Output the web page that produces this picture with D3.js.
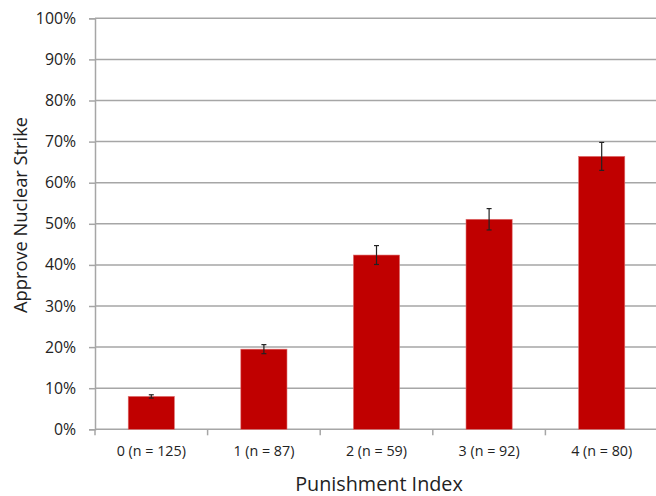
<!DOCTYPE html>
<html>
<head>
<meta charset="utf-8">
<script src="https://cdn.jsdelivr.net/npm/d3@7"></script>
<style>
  body { margin: 0; background: #fff; }
  svg text { font-family: "Open Sans", "Noto Sans", sans-serif; fill: #222; }
</style>
</head>
<body>
<svg width="656" height="496"></svg>
<script>
// data
const categories = ["0 (n = 125)", "1 (n = 87)", "2 (n = 59)", "3 (n = 92)", "4 (n = 80)"];
const values = [8.0, 19.5, 42.4, 51.1, 66.4];
const errors = [0.4, 1.1, 2.3, 2.6, 3.4];
const yTicks = [0, 10, 20, 30, 40, 50, 60, 70, 80, 90, 100];

const svg = d3.select("svg");
const plotLeft = 95, plotRight = 658, plotTop = 18.3, plotBottom = 429.3;

const x = d3.scaleBand()
  .domain(categories)
  .range([plotLeft, plotRight])
  .paddingInner(0.59)
  .paddingOuter(0.295);

const y = d3.scaleLinear().domain([0, 100]).range([plotBottom, plotTop]);

// gridlines
svg.append("g")
  .selectAll("line")
  .data(yTicks.slice(1))
  .join("line")
  .attr("x1", plotLeft).attr("x2", 656)
  .attr("y1", d => y(d)).attr("y2", d => y(d))
  .attr("stroke", "#a6a6a6")
  .attr("stroke-width", 1.5);

// y axis
const yAxis = svg.append("g")
  .attr("transform", `translate(${plotLeft},0)`)
  .call(d3.axisLeft(y).tickValues(yTicks).tickSize(6).tickPadding(13).tickFormat(d => d + "%"));
yAxis.select(".domain").attr("stroke", "#a6a6a6").attr("stroke-width", 1.5);
yAxis.selectAll(".tick line").attr("stroke", "#a6a6a6").attr("stroke-width", 1.5);
yAxis.selectAll("text").attr("font-size", 15.8).attr("fill", "#222");

// x axis baseline and boundary ticks
const bandStep = x.step();
const boundaries = d3.range(categories.length + 1).map(i => plotLeft + i * bandStep);
svg.append("line")
  .attr("x1", plotLeft).attr("x2", 656)
  .attr("y1", plotBottom).attr("y2", plotBottom)
  .attr("stroke", "#a6a6a6").attr("stroke-width", 1.5);
svg.append("g")
  .selectAll("line")
  .data(boundaries)
  .join("line")
  .attr("x1", d => d).attr("x2", d => d)
  .attr("y1", plotBottom).attr("y2", plotBottom + 6)
  .attr("stroke", "#a6a6a6").attr("stroke-width", 1.5);

// category labels
svg.append("g")
  .selectAll("text")
  .data(categories)
  .join("text")
  .attr("x", d => x(d) + x.bandwidth() / 2)
  .attr("y", 456)
  .attr("text-anchor", "middle")
  .attr("font-size", 14.3)
  .text(d => d);

// bars
svg.append("g")
  .selectAll("rect")
  .data(values)
  .join("rect")
  .attr("x", (d, i) => x(categories[i]))
  .attr("y", d => y(d))
  .attr("width", x.bandwidth())
  .attr("height", d => y(0) - y(d))
  .attr("fill", "#c00000")
  .attr("stroke", "#e07070")
  .attr("stroke-width", 0.6);

// error bars
const eb = svg.append("g").attr("stroke", "#222").attr("stroke-width", 1.2);
values.forEach((v, i) => {
  const cx = x(categories[i]) + x.bandwidth() / 2;
  const y1 = y(v + errors[i]), y2 = y(v - errors[i]);
  eb.append("line").attr("x1", cx).attr("x2", cx).attr("y1", y1).attr("y2", y2);
  eb.append("line").attr("x1", cx - 2.5).attr("x2", cx + 2.5).attr("y1", y1).attr("y2", y1);
  eb.append("line").attr("x1", cx - 2.5).attr("x2", cx + 2.5).attr("y1", y2).attr("y2", y2);
});

// axis titles
svg.append("text")
  .attr("transform", "translate(27,215) rotate(-90)")
  .attr("text-anchor", "middle")
  .attr("font-size", 18.3)
  .text("Approve Nuclear Strike");

svg.append("text")
  .attr("x", 379)
  .attr("y", 491)
  .attr("text-anchor", "middle")
  .attr("font-size", 19.8)
  .text("Punishment Index");
</script>
</body>
</html>
